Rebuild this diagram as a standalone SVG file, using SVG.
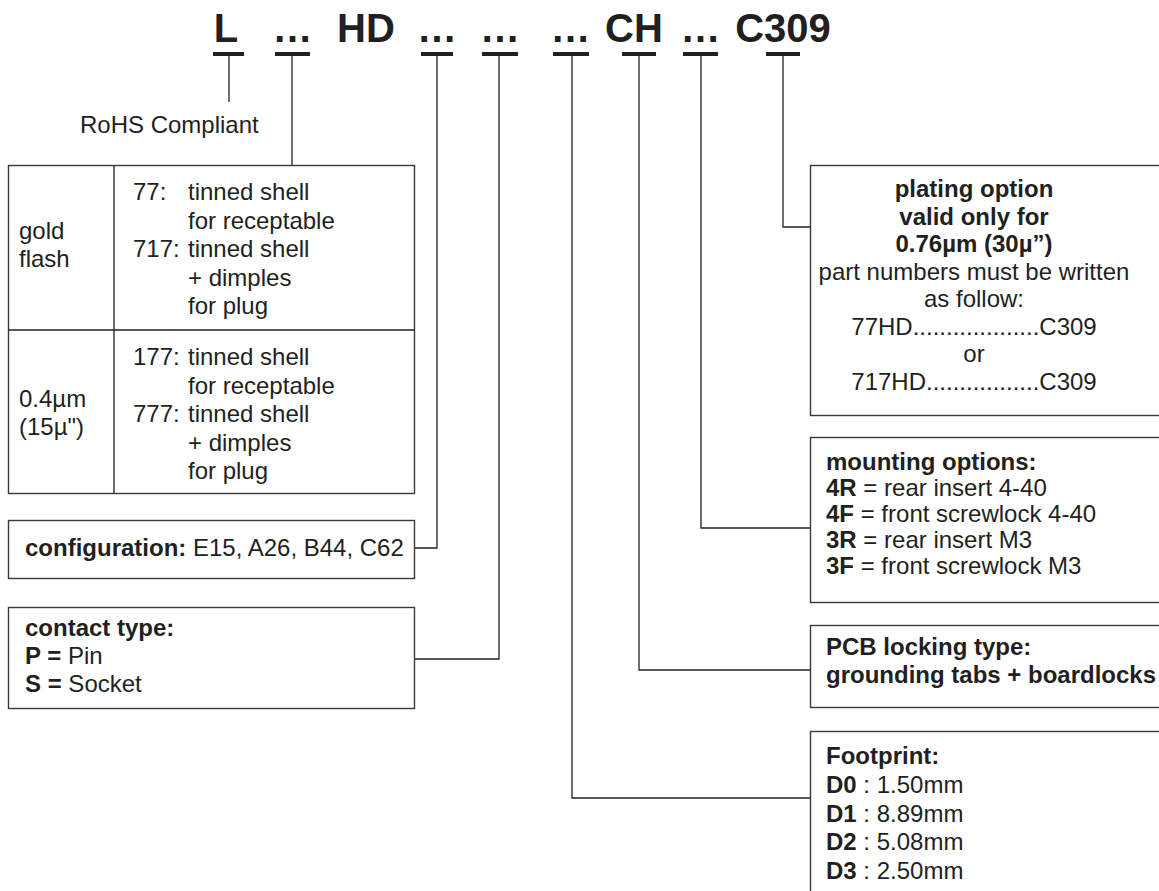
<svg xmlns="http://www.w3.org/2000/svg" width="1159" height="891" viewBox="0 0 1159 891">
<style>
text{font-family:"Liberation Sans",Arial,sans-serif;fill:#231f20;font-size:24px}
.t{font-size:40px;font-weight:bold;text-anchor:middle}
.b{font-weight:bold}
.c{text-anchor:middle}
.box{fill:#fff;stroke:#3a3a3a;stroke-width:1.4}
.bar{fill:#231f20}
.con{fill:none;stroke:#231f20;stroke-width:1.3}
</style>
<rect width="1159" height="891" fill="#fff"/>
<g id="title">
<text class="t" x="226" y="42">L</text>
<text class="t" x="292.5" y="42">…</text>
<text class="t" x="366" y="42">HD</text>
<text class="t" x="437" y="42">…</text>
<text class="t" x="500" y="42">…</text>
<text class="t" x="570.5" y="42">…</text>
<text class="t" x="634" y="42">CH</text>
<text class="t" x="700.5" y="42">…</text>
<text class="t" x="783" y="42">C309</text>
<rect class="bar" x="213" y="52" width="31" height="4"/>
<rect class="bar" x="275" y="52" width="35" height="4"/>
<rect class="bar" x="421" y="52" width="32" height="4"/>
<rect class="bar" x="482" y="52" width="36" height="4"/>
<rect class="bar" x="553" y="52" width="36" height="4"/>
<rect class="bar" x="622" y="52" width="34" height="4"/>
<rect class="bar" x="683" y="52" width="35" height="4"/>
<rect class="bar" x="766" y="52" width="34" height="4"/>
</g>
<g id="connectors">
<path class="con" d="M229 56V102"/>
<path class="con" d="M292 56V166"/>
<path class="con" d="M437 56V548H415"/>
<path class="con" d="M499 56V659H415"/>
<path class="con" d="M572 56V798H810"/>
<path class="con" d="M639 56V670H810"/>
<path class="con" d="M701 56V528H810"/>
<path class="con" d="M783 56V227H810"/>
</g>
<g id="rohs">
<text x="80" y="133">RoHS Compliant</text>
</g>
<g id="shell-table">
<rect class="box" x="8.5" y="165.5" width="406" height="328"/>
<path class="con" d="M114 165.5V493.5M8.5 330H414.5" stroke="#3a3a3a"/>
<text x="19" y="239">gold</text>
<text x="19" y="267">flash</text>
<text x="19" y="407">0.4µm</text>
<text x="19" y="435">(15µ")</text>
<text x="133" y="200">77:</text>
<text x="188" y="200">tinned shell</text>
<text x="188" y="228.5">for receptable</text>
<text x="133" y="257">717:</text>
<text x="188" y="257">tinned shell</text>
<text x="188" y="285.5">+ dimples</text>
<text x="188" y="314">for plug</text>
<text x="133" y="365">177:</text>
<text x="188" y="365">tinned shell</text>
<text x="188" y="393.5">for receptable</text>
<text x="133" y="422">777:</text>
<text x="188" y="422">tinned shell</text>
<text x="188" y="450.5">+ dimples</text>
<text x="188" y="479">for plug</text>
</g>
<g id="configuration">
<rect class="box" x="8.5" y="520.5" width="406" height="58"/>
<text x="25" y="556"><tspan class="b">configuration:</tspan> E15, A26, B44, C62</text>
</g>
<g id="contact-type">
<rect class="box" x="8.5" y="607.5" width="406" height="101"/>
<text x="25" y="636" class="b">contact type:</text>
<text x="25" y="664"><tspan class="b">P =</tspan> Pin</text>
<text x="25" y="692"><tspan class="b">S =</tspan> Socket</text>
</g>
<g id="plating">
<rect class="box" x="810.5" y="165.5" width="360" height="250"/>
<text class="c b" x="974" y="197">plating option</text>
<text class="c b" x="974" y="224.5">valid only for</text>
<text class="c b" x="974" y="252">0.76µm (30µ”)</text>
<text class="c" x="974" y="279.5">part numbers must be written</text>
<text class="c" x="974" y="307">as follow:</text>
<text class="c" x="974" y="334.5">77HD...................C309</text>
<text class="c" x="974" y="362">or</text>
<text class="c" x="974" y="389.5">717HD.................C309</text>
</g>
<g id="mounting">
<rect class="box" x="810.5" y="437.5" width="360" height="165"/>
<text x="826" y="470" class="b">mounting options:</text>
<text x="826" y="496"><tspan class="b">4R</tspan> = rear insert 4-40</text>
<text x="826" y="522"><tspan class="b">4F</tspan> = front screwlock 4-40</text>
<text x="826" y="548"><tspan class="b">3R</tspan> = rear insert M3</text>
<text x="826" y="574"><tspan class="b">3F</tspan> = front screwlock M3</text>
</g>
<g id="pcb-locking">
<rect class="box" x="810.5" y="625.5" width="360" height="82"/>
<text x="826" y="655" class="b">PCB locking type:</text>
<text x="826" y="683" class="b">grounding tabs + boardlocks</text>
</g>
<g id="footprint">
<rect class="box" x="810.5" y="731.5" width="360" height="200"/>
<text x="826" y="764" class="b">Footprint:</text>
<text x="826" y="793"><tspan class="b">D0</tspan> : 1.50mm</text>
<text x="826" y="822"><tspan class="b">D1</tspan> : 8.89mm</text>
<text x="826" y="850"><tspan class="b">D2</tspan> : 5.08mm</text>
<text x="826" y="879"><tspan class="b">D3</tspan> : 2.50mm</text>
</g>
</svg>
